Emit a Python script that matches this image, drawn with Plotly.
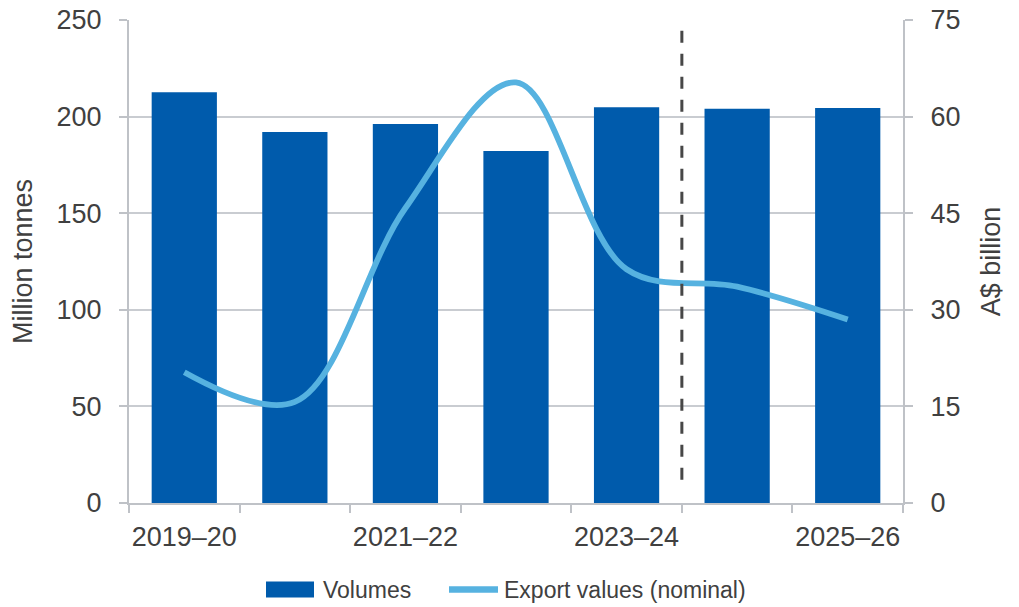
import plotly.graph_objects as go

# Financial years shown on the category axis
years = ["2019–20", "2020–21", "2021–22", "2022–23", "2023–24", "2024–25", "2025–26"]
# Export volumes, million tonnes (left axis)
volumes = [212.6, 192.0, 196.2, 182.2, 204.8, 204.1, 204.5]
# Export values in nominal A$ billion (right axis)
export_values = [20.3, 15.7, 45.8, 65.3, 36.3, 33.6, 28.5]
# Number of actual (non-forecast) years; the dashed divider sits after them
n_actual = 5

left_ticks = [0, 50, 100, 150, 200, 250]
right_ticks = [0, 15, 30, 45, 60, 75]

FONT = "Liberation Sans, Arial, Helvetica, sans-serif"
TEXT = "#404040"
GRID = "#C9CCD1"
AXIS = "#BFC2C7"
BAR = "#005BAC"
LINE = "#56B2E0"

W, H = 1019, 607
ML, MR, MT, MB = 129, 116, 20, 104
PW, PH = W - ML - MR, H - MT - MB


def px_x(px):
    return (px - ML) / PW


def px_y(py):
    return (H - MB - py) / PH


fig = go.Figure()
fig.add_trace(go.Bar(
    x=years, y=volumes, name="Volumes",
    marker=dict(color=BAR, line=dict(width=0)),
    width=0.59, yaxis="y", showlegend=False,
))
fig.add_trace(go.Scatter(
    x=years, y=export_values, name="Export values (nominal)",
    mode="lines", line=dict(color=LINE, width=5.8, shape="spline", smoothing=1.0),
    yaxis="y2", showlegend=False,
))

# Divider between actual and forecast years
fig.add_shape(
    type="line", xref="x", yref="y",
    x0=n_actual - 0.5, x1=n_actual - 0.5, y0=12, y1=247,
    line=dict(color="#474747", width=3, dash="12px,11px"),
)

# Legend drawn as swatches with text labels
fig.add_shape(type="rect", xref="paper", yref="paper",
              x0=px_x(266), x1=px_x(314), y0=px_y(597.5), y1=px_y(581.5),
              line=dict(width=0), fillcolor=BAR)
fig.add_shape(type="line", xref="paper", yref="paper",
              x0=px_x(449), x1=px_x(498), y0=px_y(589.5), y1=px_y(589.5),
              line=dict(color=LINE, width=6.5))
fig.add_annotation(xref="paper", yref="paper", x=px_x(321), y=px_y(589.5),
                   text="Volumes", showarrow=False, xanchor="left", yanchor="middle",
                   font=dict(family=FONT, size=23, color=TEXT))
fig.add_annotation(xref="paper", yref="paper", x=px_x(502), y=px_y(589.5),
                   text="Export values (nominal)", showarrow=False, xanchor="left",
                   yanchor="middle", font=dict(family=FONT, size=23, color=TEXT))

tick_text = [y if i % 2 == 0 else "" for i, y in enumerate(years)]

fig.update_layout(
    width=W, height=H,
    margin=dict(l=ML, r=MR, t=MT, b=MB, pad=0, autoexpand=False),
    paper_bgcolor="white", plot_bgcolor="white",
    font=dict(family=FONT, size=27, color=TEXT),
    bargap=0.41,
    xaxis=dict(
        type="category", range=[-0.5, len(years) - 0.5],
        tickmode="array", tickvals=years, ticktext=tick_text,
        tickson="boundaries", ticks="outside", ticklen=8, tickwidth=2,
        tickcolor=AXIS, showline=True, linecolor=AXIS, linewidth=2,
        showgrid=False, zeroline=False, ticklabelstandoff=9,
        tickangle=0, automargin=False,
        tickfont=dict(family=FONT, size=27, color=TEXT),
    ),
    yaxis=dict(
        range=[0, 250], tickmode="array", tickvals=left_ticks,
        ticks="outside", ticklen=8, tickwidth=2, tickcolor=AXIS,
        showline=True, linecolor=AXIS, linewidth=2,
        showgrid=True, gridcolor=GRID, gridwidth=2, zeroline=False,
        ticklabelstandoff=12, automargin=False,
        tickfont=dict(family=FONT, size=27, color=TEXT),
        title=dict(text="Million tonnes", standoff=16,
                   font=dict(family=FONT, size=27, color=TEXT)),
    ),
    yaxis2=dict(
        range=[0, 75], tickmode="array", tickvals=right_ticks,
        overlaying="y", side="right",
        ticks="outside", ticklen=8, tickwidth=2, tickcolor=AXIS,
        showline=True, linecolor=AXIS, linewidth=2,
        showgrid=False, zeroline=False, ticklabelstandoff=12, automargin=False,
        tickfont=dict(family=FONT, size=27, color=TEXT),
        title=dict(text="A$ billion", standoff=22,
                   font=dict(family=FONT, size=27, color=TEXT)),
    ),
)

fig.write_html("out.html")
